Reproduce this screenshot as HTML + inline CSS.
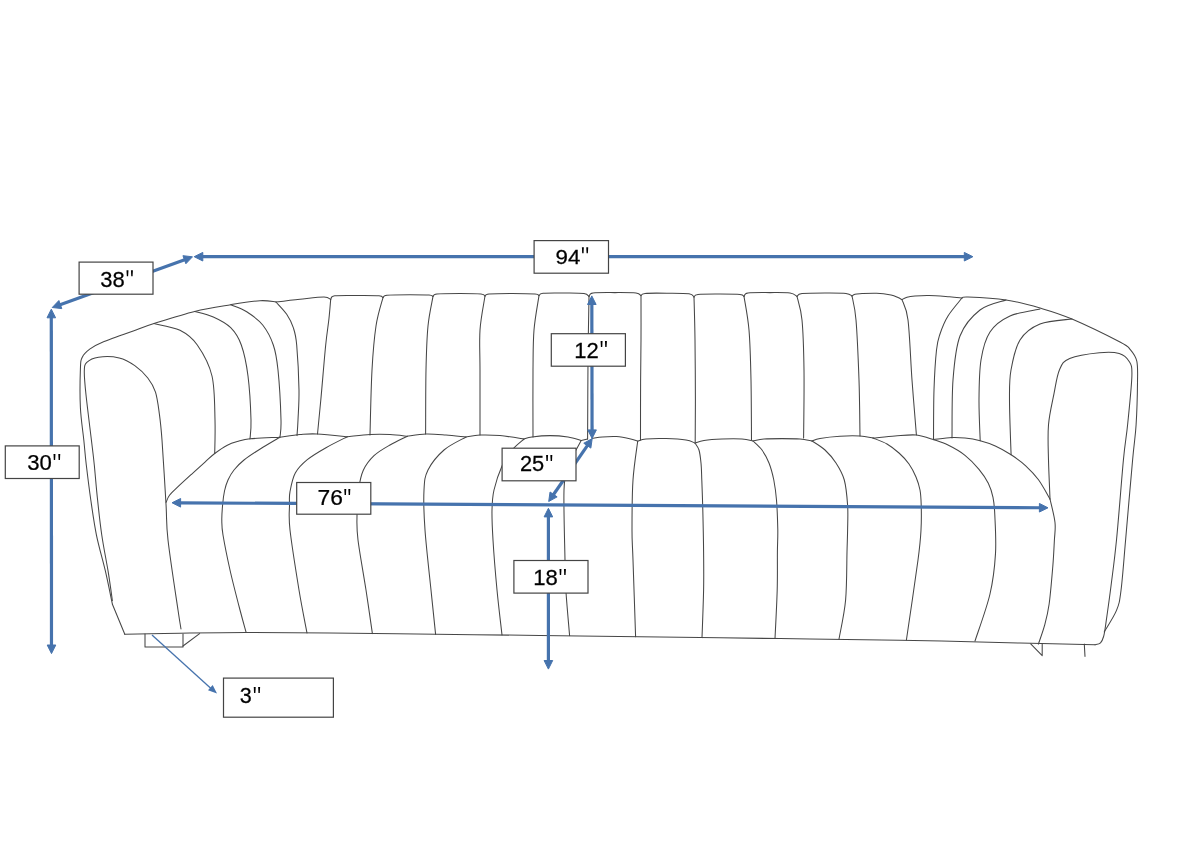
<!DOCTYPE html>
<html><head><meta charset="utf-8"><style>
html,body{margin:0;padding:0;background:#fff;}
svg{display:block;}
text{filter:grayscale(1);}
text{font-family:"Liberation Sans",sans-serif;font-size:23px;fill:#000;stroke:#000;stroke-width:0.25px;}
</style></head><body>
<svg width="1200" height="849" viewBox="0 0 1200 849">
<rect width="1200" height="849" fill="#fff"/>
<g fill="none" stroke="#464646" stroke-width="1.05" stroke-linejoin="round" stroke-linecap="round"><path d="M112.4 604.2 C111.2 598.6 108.0 582.2 105.3 570.7 C102.6 559.2 98.9 547.1 96.5 535.3 C94.1 523.5 92.5 511.7 90.8 500.0 C89.1 488.3 87.5 475.0 86.3 465.0 C85.1 455.0 84.8 449.6 83.8 440.0 C82.8 430.4 81.0 419.6 80.4 407.7 C79.8 395.8 80.1 377.3 80.4 368.9 C80.7 360.5 80.8 360.4 82.3 357.2 C83.8 353.9 86.1 351.9 89.4 349.4 C92.8 346.9 94.6 345.5 102.4 342.3 C110.2 339.1 127.4 333.1 136.0 330.0 C144.6 326.9 144.2 326.7 154.0 323.6 C163.8 320.5 181.9 314.5 194.7 311.4 C207.5 308.2 219.8 306.5 230.7 304.7 C241.6 302.9 252.4 301.1 260.0 300.7 C267.6 300.2 273.3 301.8 276.0 302.0"/><path d="M112.4 600.7 C111.7 595.7 109.8 581.6 108.0 570.7 C106.2 559.8 103.5 547.1 101.8 535.3 C100.1 523.5 98.8 511.7 97.6 500.0 C96.3 488.3 95.3 475.0 94.3 465.0 C93.3 455.0 92.8 451.7 91.4 440.0 C90.0 428.3 87.2 406.2 86.0 394.8 C84.8 383.4 84.2 376.9 84.3 371.5 C84.4 366.1 84.4 364.8 86.8 362.4 C89.2 360.0 93.1 357.9 98.5 357.2 C103.9 356.4 113.2 356.5 119.2 357.9 C125.2 359.3 130.0 362.2 134.8 365.6 C139.6 369.0 144.4 373.6 147.8 378.0 C151.2 382.4 153.6 386.2 155.5 392.2 C157.4 398.2 158.3 406.2 159.4 414.2 C160.5 422.2 160.9 425.0 162.0 440.0 C163.1 455.0 165.0 487.3 166.0 504.0 C167.0 520.7 166.0 522.3 168.0 540.0 C170.0 557.7 175.8 595.2 178.0 610.0 C180.2 624.8 180.5 625.8 181.0 629.0"/><path d="M154.0 323.6 C158.3 324.7 172.8 326.7 180.0 330.3 C187.2 333.9 192.0 337.4 197.3 345.0 C202.6 352.6 209.1 363.5 212.0 376.0 C214.9 388.5 214.6 407.1 215.0 420.0 C215.4 432.9 214.8 447.9 214.7 453.5"/><path d="M194.7 311.4 C197.8 312.3 207.3 314.3 213.3 317.0 C219.3 319.7 226.0 323.0 230.7 327.7 C235.4 332.4 238.4 336.9 241.3 345.0 C244.2 353.1 246.4 363.5 248.0 376.0 C249.6 388.5 250.7 409.5 251.0 420.0 C251.3 430.5 250.2 435.8 250.0 439.0"/><path d="M230.7 304.7 C233.4 305.9 241.4 308.3 246.7 311.7 C252.0 315.1 258.3 319.4 262.7 325.0 C267.1 330.6 270.8 337.5 273.3 345.0 C275.9 352.5 276.7 357.5 278.0 370.0 C279.3 382.5 280.7 408.8 281.0 420.0 C281.3 431.2 280.2 434.2 280.0 437.0"/><path d="M276.0 302.0 C277.8 304.1 283.8 310.0 286.7 314.3 C289.6 318.6 291.6 322.6 293.3 327.7 C295.0 332.8 295.8 334.6 296.7 345.0 C297.6 355.4 298.8 377.5 299.0 390.0 C299.2 402.5 298.3 412.4 298.0 420.0 C297.7 427.6 297.2 433.0 297.0 435.6"/><path d="M330.7 299.4 C330.4 302.5 329.8 310.7 329.0 318.3 C328.2 325.9 327.1 331.4 325.7 345.0 C324.3 358.6 322.2 385.2 320.8 400.0 C319.4 414.8 318.1 428.3 317.5 434.0"/><path d="M383.0 297.6 C381.8 302.3 377.8 313.9 376.0 326.0 C374.2 338.1 373.0 351.8 372.0 370.0 C371.0 388.2 370.3 424.2 370.0 435.0"/><path d="M433.0 296.4 C432.2 301.3 429.2 313.7 428.0 326.0 C426.8 338.3 426.4 352.0 426.0 370.0 C425.6 388.0 425.7 423.3 425.6 434.0"/><path d="M485.0 296.0 C484.2 301.7 480.8 317.7 480.0 330.0 C479.2 342.3 480.0 352.5 480.0 370.0 C480.0 387.5 480.0 424.2 480.0 435.0"/><path d="M539.0 295.6 C538.2 301.3 535.0 317.6 534.0 330.0 C533.0 342.4 533.2 352.2 533.0 370.0 C532.8 387.8 533.0 425.8 533.0 437.0"/><path d="M589.0 296.4 C588.8 307.0 588.2 336.2 588.0 360.0 C587.8 383.8 587.7 425.8 587.6 439.0"/><path d="M641.0 295.6 C641.0 303.0 641.1 325.6 641.0 340.0 C640.9 354.4 640.7 365.3 640.6 382.0 C640.5 398.7 640.5 430.3 640.5 440.0"/><path d="M694.0 297.0 C694.2 304.2 694.8 322.8 695.0 340.0 C695.2 357.2 695.4 383.0 695.4 400.0 C695.4 417.0 695.2 435.0 695.2 442.0"/><path d="M744.0 296.4 C744.8 302.0 747.8 316.1 749.0 330.0 C750.2 343.9 750.6 361.7 751.0 380.0 C751.4 398.3 751.4 430.0 751.5 440.0"/><path d="M797.0 296.4 C797.8 300.3 800.8 307.7 802.0 320.0 C803.2 332.3 803.7 350.3 804.0 370.0 C804.3 389.7 803.7 426.7 803.6 438.0"/><path d="M852.0 296.0 C852.7 300.0 854.8 306.0 856.0 320.0 C857.2 334.0 858.3 360.7 859.0 380.0 C859.7 399.3 859.8 426.7 860.0 436.0"/><path d="M902.0 299.6 C903.0 303.0 906.3 306.6 908.0 320.0 C909.7 333.4 910.6 360.8 912.0 380.0 C913.4 399.2 915.7 425.8 916.4 435.0"/><path d="M962.0 298.0 C959.7 301.0 951.7 310.0 948.0 316.0 C944.3 322.0 941.9 328.3 940.0 334.0 C938.1 339.7 937.5 340.7 936.5 350.0 C935.5 359.3 934.5 375.1 934.0 390.0 C933.5 404.9 933.6 431.3 933.5 439.6"/><path d="M1006.0 300.0 C1001.7 301.7 987.7 304.0 980.0 310.0 C972.3 316.0 964.5 324.3 960.0 336.0 C955.5 347.7 954.3 363.0 953.0 380.0 C951.7 397.0 952.2 428.3 952.0 438.0"/><path d="M1040.0 309.0 C1035.0 310.2 1018.3 312.2 1010.0 316.0 C1001.7 319.8 994.8 324.7 990.0 332.0 C985.2 339.3 982.8 348.7 981.0 360.0 C979.2 371.3 979.1 386.5 979.0 400.0 C978.9 413.5 980.0 434.0 980.2 440.8"/><path d="M1072.0 319.0 C1066.7 319.8 1048.7 320.5 1040.0 324.0 C1031.3 327.5 1024.8 332.3 1020.0 340.0 C1015.2 347.7 1012.8 360.0 1011.0 370.0 C1009.2 380.0 1009.5 385.9 1009.5 400.0 C1009.5 414.1 1010.8 445.7 1011.1 454.8"/><path d="M276.0 302.0 C280.0 301.5 292.0 300.0 300.0 299.2 C308.0 298.4 318.9 297.0 324.0 297.0 C329.1 297.0 329.6 299.0 330.7 299.4"/><path d="M330.7 299.4 C331.4 298.8 330.1 296.4 334.7 295.8 C339.2 295.2 350.6 295.5 358.0 295.5 C365.4 295.5 374.8 295.4 379.0 295.8 C383.2 296.2 382.3 297.3 383.0 297.6"/><path d="M383.0 297.6 C383.7 297.2 382.5 295.7 387.0 295.2 C391.5 294.7 403.0 294.7 410.0 294.7 C417.0 294.7 425.2 294.7 429.0 295.0 C432.8 295.3 432.3 296.2 433.0 296.4"/><path d="M433.0 296.4 C433.7 296.0 432.5 294.5 437.0 294.0 C441.5 293.5 452.7 293.5 460.0 293.5 C467.3 293.5 476.8 293.6 481.0 294.0 C485.2 294.4 484.3 295.7 485.0 296.0"/><path d="M485.0 296.0 C485.7 295.7 484.5 294.4 489.0 294.0 C493.5 293.6 504.3 293.4 512.0 293.4 C519.7 293.4 530.5 293.6 535.0 294.0 C539.5 294.4 538.3 295.3 539.0 295.6"/><path d="M539.0 295.6 C539.7 295.2 538.7 293.6 543.0 293.2 C547.3 292.8 558.2 292.9 565.0 293.0 C571.8 293.1 580.0 293.0 584.0 293.6 C588.0 294.2 588.2 295.9 589.0 296.4"/><path d="M589.0 296.4 C589.7 295.8 588.7 293.6 593.0 293.0 C597.3 292.4 607.8 292.6 615.0 292.6 C622.2 292.6 631.7 292.5 636.0 293.0 C640.3 293.5 640.2 295.2 641.0 295.6"/><path d="M641.0 295.6 C641.7 295.2 640.7 293.8 645.0 293.4 C649.3 293.0 659.7 293.1 667.0 293.2 C674.3 293.3 684.5 293.2 689.0 293.8 C693.5 294.4 693.2 296.5 694.0 297.0"/><path d="M694.0 297.0 C694.7 296.6 693.7 294.9 698.0 294.4 C702.3 293.9 713.0 294.0 720.0 294.0 C727.0 294.0 736.0 294.0 740.0 294.4 C744.0 294.8 743.3 296.1 744.0 296.4"/><path d="M744.0 296.4 C744.7 295.8 743.7 293.6 748.0 293.0 C752.3 292.4 763.0 292.6 770.0 292.6 C777.0 292.6 785.5 292.4 790.0 293.0 C794.5 293.6 795.8 295.8 797.0 296.4"/><path d="M797.0 296.4 C797.8 295.9 797.3 294.2 802.0 293.6 C806.7 293.0 817.7 293.0 825.0 293.0 C832.3 293.0 841.5 292.9 846.0 293.4 C850.5 293.9 851.0 295.6 852.0 296.0"/><path d="M852.0 296.0 C852.5 295.7 853.3 294.6 855.0 294.2 C856.7 293.8 858.4 293.8 862.0 293.6 C865.6 293.4 871.8 293.0 876.6 293.2 C881.4 293.4 887.4 294.3 891.0 295.0 C894.6 295.7 896.2 296.8 898.0 297.6 C899.8 298.4 901.3 299.3 902.0 299.6"/><path d="M902.0 299.6 C902.8 299.2 904.8 297.8 907.0 297.2 C909.2 296.6 911.3 296.3 915.0 296.0 C918.7 295.7 923.2 295.4 929.0 295.5 C934.8 295.6 944.0 296.4 949.5 296.8 C955.0 297.2 959.9 297.8 962.0 298.0"/><path d="M962.0 298.0 C963.0 297.8 960.7 296.7 968.0 297.0 C975.3 297.3 994.0 298.2 1006.0 300.0 C1018.0 301.8 1029.0 304.8 1040.0 308.0 C1051.0 311.2 1058.7 313.3 1072.0 319.0 C1085.3 324.7 1110.2 336.9 1120.0 342.0 C1129.8 347.1 1127.7 346.7 1130.5 349.9 C1133.3 353.1 1135.6 355.8 1136.8 361.2 C1138.0 366.6 1137.6 371.8 1137.5 382.4 C1137.4 393.0 1136.9 411.9 1136.1 424.8 C1135.3 437.7 1134.3 440.8 1132.6 460.0 C1130.8 479.2 1127.5 518.2 1125.6 540.0 C1123.7 561.8 1122.5 578.8 1121.0 590.5 C1119.5 602.2 1119.3 603.5 1116.5 610.4 C1113.7 617.3 1106.2 628.3 1104.2 631.9"/><path d="M1038.4 644.1 C1039.4 641.0 1042.7 632.3 1044.5 625.7 C1046.3 619.1 1047.7 614.2 1049.1 604.3 C1050.5 594.4 1051.9 577.2 1052.8 566.5 C1053.7 555.8 1054.0 547.3 1054.4 540.0 C1054.8 532.7 1055.7 529.3 1055.0 522.5 C1054.3 515.7 1050.8 502.9 1050.0 499.0"/><path d="M1050.0 499.0 C1049.8 492.5 1048.8 472.4 1048.5 460.0 C1048.2 447.6 1047.6 435.9 1048.5 424.8 C1049.4 413.8 1052.2 402.9 1054.0 393.7 C1055.8 384.5 1056.9 375.6 1059.5 369.7 C1062.1 363.8 1063.0 361.2 1069.7 358.4 C1076.4 355.6 1091.2 353.5 1099.4 352.7 C1107.7 351.9 1114.3 352.0 1119.2 353.4 C1124.1 354.8 1126.9 357.5 1129.0 361.2 C1131.1 364.9 1132.1 364.7 1131.9 375.3 C1131.7 385.9 1129.0 410.7 1127.6 424.8 C1126.2 438.9 1125.2 440.8 1123.4 460.0 C1121.6 479.2 1118.6 519.0 1116.5 540.0 C1114.4 561.0 1112.8 571.7 1111.0 586.0 C1109.2 600.3 1106.7 617.6 1105.5 626.0 C1104.3 634.4 1104.4 633.7 1103.6 636.5 C1102.8 639.3 1101.9 641.4 1100.5 642.8 C1099.1 644.2 1095.9 644.5 1095.0 644.8"/><path d="M124.8 634.3 C134.0 634.1 159.8 633.5 180.0 633.2 C200.2 632.9 221.0 632.5 246.0 632.5 C271.0 632.5 298.3 632.7 330.0 633.0 C361.7 633.3 401.0 633.8 436.0 634.2 C471.0 634.6 502.7 635.0 540.0 635.5 C577.3 636.0 620.0 636.5 660.0 637.0 C700.0 637.5 740.0 638.1 780.0 638.6 C820.0 639.1 860.0 639.5 900.0 640.2 C940.0 640.9 987.5 642.2 1020.0 643.0 C1052.5 643.8 1082.5 644.5 1095.0 644.8"/><path d="M166.1 502.3 C166.7 501.1 167.6 497.8 169.5 495.3 C171.4 492.8 173.8 490.7 177.5 487.2 C181.2 483.7 186.9 478.5 191.5 474.3 C196.1 470.1 201.1 465.6 205.0 462.1 C208.9 458.6 211.0 456.3 214.7 453.5 C218.4 450.7 223.2 447.3 227.3 445.2 C231.4 443.1 235.2 442.2 239.0 441.1 C242.8 440.0 243.3 439.5 250.1 438.8 C256.9 438.1 274.9 437.5 279.8 437.2"/><path d="M279.8 437.2 C283.2 436.8 293.8 435.1 300.0 434.6 C306.2 434.1 309.1 433.6 317.0 434.0 C324.9 434.4 342.2 436.2 347.3 436.7"/><path d="M347.3 436.7 C351.1 436.4 362.9 435.0 370.0 434.6 C377.1 434.2 383.8 434.3 390.0 434.6 C396.2 434.9 404.4 436.0 407.3 436.3"/><path d="M407.3 436.3 C410.4 435.9 419.6 434.2 426.0 434.0 C432.4 433.8 439.3 434.5 446.0 435.0 C452.7 435.5 462.7 436.7 466.0 437.0"/><path d="M466.0 437.0 C468.3 436.7 474.3 435.2 480.0 435.0 C485.7 434.8 492.7 434.9 500.0 435.6 C507.3 436.3 520.0 438.4 524.0 439.0"/><path d="M524.0 439.0 C525.3 438.7 527.7 437.6 532.0 437.0 C536.3 436.4 544.0 435.6 550.0 435.6 C556.0 435.6 562.8 436.2 568.0 437.0 C573.2 437.8 579.0 439.9 581.2 440.5"/><path d="M581.2 440.5 L587.6 439.0"/><path d="M592.2 438.4 C593.9 438.2 598.4 437.3 602.4 437.0 C606.4 436.7 611.8 436.3 616.5 436.6 C621.2 436.9 627.2 438.2 630.7 439.0 C634.2 439.8 636.5 440.8 637.7 441.2"/><path d="M637.7 441.2 C639.1 440.8 641.3 439.4 646.0 439.0 C650.7 438.6 659.3 438.4 666.0 438.6 C672.7 438.8 681.2 439.3 686.0 440.0 C690.8 440.7 693.5 442.5 695.0 443.0"/><path d="M695.0 443.0 C696.5 442.6 699.5 441.1 704.0 440.4 C708.5 439.7 715.7 439.2 722.0 439.0 C728.3 438.8 736.8 438.7 742.0 439.0 C747.2 439.3 751.2 440.7 753.0 441.0"/><path d="M753.0 441.0 C754.8 440.7 759.2 439.4 764.0 439.0 C768.8 438.6 776.0 438.6 782.0 438.6 C788.0 438.6 795.0 438.6 800.0 439.0 C805.0 439.4 810.0 440.7 812.0 441.0"/><path d="M812.0 441.0 C813.3 440.6 815.3 439.2 820.0 438.4 C824.7 437.6 833.3 436.6 840.0 436.2 C846.7 435.8 854.5 435.7 860.0 436.0 C865.5 436.3 870.8 437.7 873.0 438.0"/><path d="M873.0 438.0 C876.7 437.7 887.8 436.5 895.0 436.0 C902.2 435.5 910.0 434.4 916.4 435.0 C922.8 435.6 930.6 438.8 933.4 439.6"/><path d="M933.5 439.6 C936.5 439.3 946.4 437.9 951.6 437.6 C956.9 437.4 960.2 437.6 965.0 438.1 C969.8 438.6 975.2 439.5 980.2 440.8 C985.2 442.1 990.1 443.7 995.3 446.0 C1000.4 448.3 1006.0 451.5 1011.1 454.8 C1016.2 458.1 1021.1 461.6 1025.7 465.8 C1030.3 470.0 1034.5 474.3 1038.5 479.8 C1042.5 485.3 1048.1 495.8 1050.0 499.0"/><path d="M279.8 437.2 C276.7 439.1 267.0 444.7 261.0 448.5 C255.0 452.3 248.5 456.4 244.0 460.0 C239.5 463.6 236.7 466.7 234.0 470.0 C231.3 473.3 229.6 476.5 228.0 480.0 C226.4 483.5 225.4 486.8 224.5 491.0 C223.6 495.2 223.0 500.2 222.6 505.0 C222.2 509.8 221.7 515.0 221.8 520.0 C221.9 525.0 221.6 526.7 223.0 535.0 C224.4 543.3 227.2 557.5 230.0 570.0 C232.8 582.5 237.3 599.7 240.0 610.0 C242.7 620.3 245.0 628.3 246.0 632.0"/><path d="M347.3 436.7 C343.8 438.5 332.7 443.9 326.0 447.7 C319.3 451.5 312.4 455.5 307.3 459.7 C302.2 463.9 298.2 467.7 295.3 473.0 C292.4 478.3 291.0 486.4 290.0 491.7 C289.0 497.0 289.5 498.6 289.5 505.0 C289.5 511.4 288.4 515.8 290.0 530.0 C291.6 544.2 296.2 572.8 299.0 590.0 C301.8 607.2 305.7 625.8 307.0 633.0"/><path d="M407.3 436.3 C404.4 437.8 395.6 441.8 390.0 445.0 C384.4 448.2 378.4 451.5 374.0 455.7 C369.6 459.9 365.9 464.6 363.3 470.3 C360.7 476.0 359.6 482.4 358.5 490.0 C357.4 497.6 357.1 507.7 357.0 516.0 C356.9 524.3 356.5 527.7 358.0 540.0 C359.5 552.3 363.6 574.4 366.0 590.0 C368.4 605.6 371.3 626.3 372.4 633.6"/><path d="M466.0 437.0 C462.3 439.2 450.3 444.5 444.0 450.0 C437.7 455.5 431.3 463.3 428.0 470.0 C424.7 476.7 424.5 480.0 424.0 490.0 C423.5 500.0 423.8 513.3 425.0 530.0 C426.2 546.7 429.2 572.6 431.0 590.0 C432.8 607.4 434.8 627.0 435.6 634.4"/><path d="M524.0 439.0 C522.0 440.8 515.7 445.5 512.0 450.0 C508.3 454.5 505.0 459.3 502.0 466.0 C499.0 472.7 495.7 482.7 494.0 490.0 C492.3 497.3 492.2 501.7 492.0 510.0 C491.8 518.3 492.2 526.7 493.0 540.0 C493.8 553.3 495.5 574.2 497.0 590.0 C498.5 605.8 501.2 627.5 502.0 635.0"/><path d="M581.2 440.5 C580.5 441.8 579.2 444.2 577.0 448.3 C574.8 452.4 570.2 458.1 568.0 465.0 C565.8 471.9 564.5 474.2 564.0 490.0 C563.5 505.8 564.7 543.0 565.0 560.0 C565.3 577.0 565.2 579.4 566.0 592.0 C566.8 604.6 569.0 628.3 569.6 635.6"/><path d="M637.7 441.2 C636.9 447.7 634.0 465.2 633.0 480.0 C632.0 494.8 632.0 516.7 632.0 530.0 C632.0 543.3 632.4 542.2 633.0 560.0 C633.6 577.8 635.2 624.0 635.6 636.8"/><path d="M695.0 443.0 C695.7 444.2 698.0 446.7 699.0 450.0 C700.0 453.3 700.5 458.0 701.0 463.0 C701.5 468.0 701.5 472.2 701.8 480.0 C702.1 487.8 702.5 498.0 702.8 510.0 C703.1 522.0 703.5 538.7 703.6 552.0 C703.7 565.3 703.9 575.7 703.6 590.0 C703.3 604.3 702.3 629.7 702.0 637.6"/><path d="M753.0 441.0 C754.5 442.5 759.3 446.3 762.0 450.0 C764.7 453.7 767.0 458.0 769.0 463.0 C771.0 468.0 772.5 473.8 773.8 480.0 C775.0 486.2 775.8 491.7 776.5 500.0 C777.2 508.3 777.6 521.3 777.8 530.0 C777.9 538.7 777.5 542.0 777.4 552.0 C777.3 562.0 777.6 575.6 777.2 590.0 C776.8 604.4 775.4 630.3 775.0 638.4"/><path d="M812.0 441.0 C814.2 442.5 821.0 446.3 825.0 450.0 C829.0 453.7 832.8 458.0 836.0 463.0 C839.2 468.0 842.4 473.0 844.3 480.0 C846.2 487.0 847.0 496.7 847.6 505.0 C848.2 513.3 847.7 522.2 847.6 530.0 C847.5 537.8 847.3 540.3 847.0 552.0 C846.7 563.7 846.9 585.5 845.6 600.0 C844.3 614.5 840.1 632.5 839.0 639.0"/><path d="M873.0 438.0 C875.3 439.0 882.7 441.5 887.0 444.0 C891.3 446.5 895.3 449.7 899.0 453.0 C902.7 456.3 906.2 460.0 909.0 464.0 C911.8 468.0 914.2 472.7 916.0 477.0 C917.8 481.3 919.1 485.3 920.0 490.0 C920.9 494.7 921.0 498.3 921.2 505.0 C921.4 511.7 921.5 520.8 921.0 530.0 C920.5 539.2 920.4 541.7 918.0 560.0 C915.6 578.3 908.3 626.7 906.4 640.0"/><path d="M933.5 439.6 C935.8 440.5 942.2 442.2 947.5 444.8 C952.8 447.4 959.8 451.2 965.0 455.3 C970.2 459.4 975.1 464.6 979.0 469.3 C982.9 474.0 986.0 478.6 988.3 483.3 C990.6 488.0 991.9 492.1 993.0 497.3 C994.1 502.6 994.4 505.4 994.8 514.8 C995.2 524.2 996.3 540.4 995.5 553.6 C994.7 566.8 993.4 579.4 990.0 594.0 C986.6 608.6 977.5 633.2 975.0 641.0"/><path d="M112.4 604.2 L124.8 634.3"/><path d="M145.0 634.0 L145.0 647.0 L183.0 647.0 L183.0 634.0"/><path d="M183.0 646.0 L199.6 633.6"/><path d="M1030.7 643.8 L1042.2 655.6 L1042.2 644.1"/><path d="M1084.3 644.1 L1085.0 656.4"/></g>
<g stroke="#4673ad" fill="#4673ad"><line x1="201.80" y1="256.70" x2="965.30" y2="256.70" stroke-width="3.20"/><path d="M194.20 256.70 L202.80 252.40 L202.80 261.00 Z"/><path d="M972.90 256.70 L964.30 261.00 L964.30 252.40 Z"/><line x1="59.40" y1="304.92" x2="185.35" y2="259.38" stroke-width="3.20"/><path d="M52.25 307.50 L58.88 300.53 L61.80 308.62 Z"/><path d="M192.50 256.80 L185.87 263.77 L182.95 255.68 Z"/><line x1="51.30" y1="316.80" x2="51.50" y2="646.00" stroke-width="3.20"/><path d="M51.30 309.20 L55.60 317.80 L47.00 317.80 Z"/><path d="M51.50 653.60 L47.20 645.00 L55.80 645.00 Z"/><line x1="591.82" y1="303.50" x2="592.08" y2="430.90" stroke-width="3.20"/><path d="M591.80 295.90 L596.12 304.49 L587.52 304.51 Z"/><path d="M592.10 438.50 L587.78 429.91 L596.38 429.89 Z"/><line x1="587.88" y1="444.85" x2="553.02" y2="495.25" stroke-width="3.20"/><path d="M592.20 438.60 L590.84 448.12 L583.77 443.23 Z"/><path d="M548.70 501.50 L550.06 491.98 L557.13 496.87 Z"/><line x1="179.60" y1="502.79" x2="1040.40" y2="507.76" stroke-width="3.20"/><path d="M172.00 502.75 L180.62 498.50 L180.58 507.10 Z"/><path d="M1048.00 507.80 L1039.38 512.05 L1039.42 503.45 Z"/><line x1="548.40" y1="515.90" x2="548.40" y2="661.50" stroke-width="3.20"/><path d="M548.40 508.30 L552.70 516.90 L544.10 516.90 Z"/><path d="M548.40 669.10 L544.10 660.50 L552.70 660.50 Z"/></g>
<line x1="152" y1="635" x2="211" y2="688.5" stroke="#4673ad" stroke-width="1.3"/><g fill="#4673ad"><path d="M217.00 693.60 L207.97 690.17 L212.66 684.97 Z"/></g>
<rect x="79.10" y="262.10" width="73.90" height="32.10" fill="#fff" stroke="#444" stroke-width="1.2"/><text transform="translate(100.32 286.53) scale(1.006 1)" style="font-size:21.90px">38</text><path d="M126.50 270.25 L128.45 270.25 L128.15 276.25 L126.80 276.25 Z" fill="#000"/><path d="M130.95 270.25 L132.90 270.25 L132.60 276.25 L131.25 276.25 Z" fill="#000"/><rect x="534.10" y="240.60" width="74.40" height="32.60" fill="#fff" stroke="#444" stroke-width="1.2"/><text transform="translate(555.60 263.89) scale(1.056 1)" style="font-size:21.13px">94</text><path d="M581.90 247.25 L583.85 247.25 L583.55 253.25 L582.20 253.25 Z" fill="#000"/><path d="M586.25 247.25 L588.20 247.25 L587.90 253.25 L586.55 253.25 Z" fill="#000"/><rect x="551.30" y="333.70" width="74.10" height="32.50" fill="#fff" stroke="#444" stroke-width="1.2"/><text transform="translate(574.35 357.70) scale(0.989 1)" style="font-size:22.29px">12</text><path d="M600.60 341.00 L602.55 341.00 L602.25 347.00 L600.90 347.00 Z" fill="#000"/><path d="M604.95 341.00 L606.90 341.00 L606.60 347.00 L605.25 347.00 Z" fill="#000"/><rect x="5.30" y="445.90" width="73.90" height="32.60" fill="#fff" stroke="#444" stroke-width="1.2"/><text transform="translate(27.31 470.18) scale(1.027 1)" style="font-size:21.55px">30</text><path d="M53.50 453.90 L55.45 453.90 L55.15 459.90 L53.80 459.90 Z" fill="#000"/><path d="M58.30 453.90 L60.25 453.90 L59.95 459.90 L58.60 459.90 Z" fill="#000"/><rect x="502.10" y="448.20" width="73.90" height="32.60" fill="#fff" stroke="#444" stroke-width="1.2"/><text transform="translate(519.91 471.48) scale(0.995 1)" style="font-size:21.97px">25</text><path d="M546.10 455.00 L548.05 455.00 L547.75 461.00 L546.40 461.00 Z" fill="#000"/><path d="M550.35 455.00 L552.30 455.00 L552.00 461.00 L550.65 461.00 Z" fill="#000"/><rect x="296.70" y="482.50" width="74.10" height="31.70" fill="#fff" stroke="#444" stroke-width="1.2"/><text transform="translate(317.46 505.28) scale(1.053 1)" style="font-size:21.69px">76</text><path d="M344.30 489.00 L346.25 489.00 L345.95 495.00 L344.60 495.00 Z" fill="#000"/><path d="M348.35 489.00 L350.30 489.00 L350.00 495.00 L348.65 495.00 Z" fill="#000"/><rect x="513.90" y="560.50" width="74.10" height="32.60" fill="#fff" stroke="#444" stroke-width="1.2"/><text transform="translate(533.24 585.48) scale(1.006 1)" style="font-size:21.97px">18</text><path d="M559.50 569.00 L561.45 569.00 L561.15 575.00 L559.80 575.00 Z" fill="#000"/><path d="M563.95 569.00 L565.90 569.00 L565.60 575.00 L564.25 575.00 Z" fill="#000"/><rect x="223.50" y="678.10" width="109.90" height="39.10" fill="#fff" stroke="#444" stroke-width="1.2"/><text transform="translate(239.74 703.38) scale(0.989 1)" style="font-size:21.83px">3</text><path d="M253.75 686.90 L255.70 686.90 L255.40 692.90 L254.05 692.90 Z" fill="#000"/><path d="M258.15 686.90 L260.10 686.90 L259.80 692.90 L258.45 692.90 Z" fill="#000"/>
</svg>
</body></html>
